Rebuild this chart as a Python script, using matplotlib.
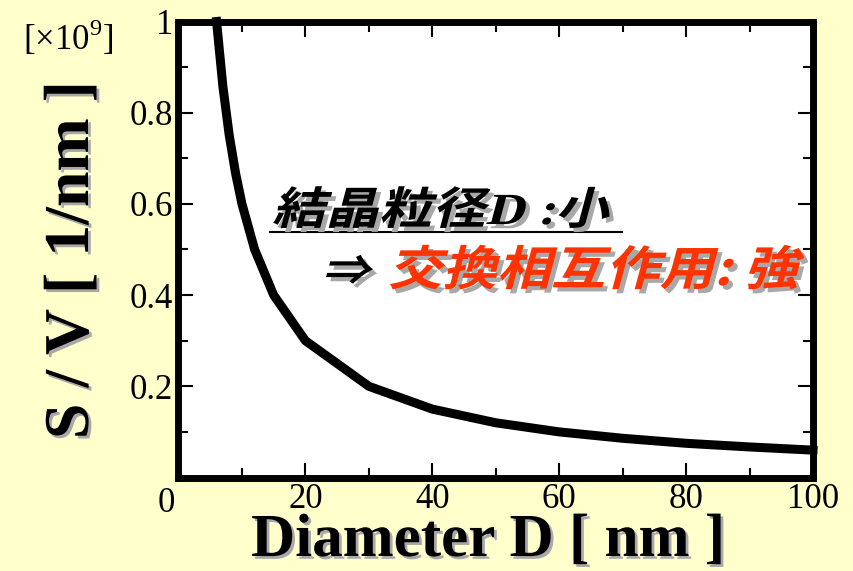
import matplotlib
matplotlib.use("Agg")
import matplotlib.pyplot as plt
import matplotlib.patheffects as pe
from matplotlib.colors import to_rgba
from matplotlib.transforms import Affine2D, ScaledTranslation
from matplotlib.ticker import MultipleLocator
from matplotlib.lines import Line2D

# data
diameter = [6, 7, 8, 9, 10, 12, 15, 20, 30, 40, 50, 60, 70, 80, 90, 100]
s_over_v = [1.0, 0.857, 0.75, 0.667, 0.6, 0.5, 0.4, 0.3, 0.2, 0.15, 0.12, 0.1,
            0.086, 0.075, 0.067, 0.06]
x_ticks = [20, 40, 60, 80, 100]
y_ticks = [0.2, 0.4, 0.6, 0.8, 1.0]
y_tick_labels = ["0.2", "0.4", "0.6", "0.8", "1"]

BG = "#FFFFCC"
RED = "#FF3300"
SERIF = ["Liberation Serif", "DejaVu Serif"]
CJK = ["Noto Sans CJK JP", "DejaVu Sans"]

plt.rcParams["mathtext.fontset"] = "custom"
plt.rcParams["mathtext.rm"] = "Liberation Serif"


class TextFx(pe.AbstractPathEffect):
    """shear + horizontal stretch about the text origin, optional shadow colour"""
    def __init__(self, offset=(0, 0), color=None, skew=0, stretch=1.0):
        super().__init__(offset)
        self.color = to_rgba(color) if color is not None else None
        self.skew = skew
        self.stretch = stretch

    def draw_path(self, renderer, gc, tpath, affine, rgbFace):
        x0, y0 = affine.transform((0, 0))
        t = (Affine2D().translate(-x0, -y0).scale(self.stretch, 1)
             .skew_deg(self.skew, 0).translate(x0, y0))
        gc0 = renderer.new_gc()
        gc0.copy_properties(gc)
        face = self.color if self.color is not None else rgbFace
        renderer.draw_path(gc0, tpath, affine + t + self._offset_transform(renderer), face)
        gc0.restore()


def fx(skew=0, stretch=1.0, off=(2, -2)):
    return [TextFx(offset=off, color="#A8A8A8", skew=skew, stretch=stretch),
            TextFx(skew=skew, stretch=stretch)]


W, H = 854, 571
fig = plt.figure(figsize=(8.54, 5.71), dpi=100, facecolor=BG)
L, R, T, B = 178.5, 813, 21.5, 477.5
ax = fig.add_axes([L / W, 1 - B / H, (R - L) / W, (B - T) / H])
ax.set_facecolor("white")

ax.plot(diameter, s_over_v, color="black", lw=6.5, clip_on=False, zorder=3)

ax.set_xlim(0, 100)
ax.set_ylim(0, 1)
ax.set_xticks(x_ticks)
ax.set_yticks(y_ticks)
ax.set_yticklabels(y_tick_labels)
ax.xaxis.set_minor_locator(MultipleLocator(10))
ax.yaxis.set_minor_locator(MultipleLocator(0.1))
ax.tick_params(which="both", direction="in", top=True, right=True,
               labelsize=25, colors="black")
ax.tick_params(which="major", length=11, width=1.5)
ax.tick_params(which="minor", length=7, width=1.5)
ax.tick_params(axis="x", pad=4)
ax.tick_params(axis="y", pad=4)
for lab in ax.get_xticklabels() + ax.get_yticklabels():
    lab.set_family(SERIF)
for sp in ax.spines.values():
    sp.set_linewidth(5)
    sp.set_zorder(4)

# the origin "0" sits a little left of the corner
ax.text(0, 0, "0", family=SERIF, fontsize=25, ha="center", va="top",
        transform=ax.transData + ScaledTranslation(-12 / 100, -9 / 100, fig.dpi_scale_trans))

fig.text(488 / W, 1 - 556 / H, "Diameter D [ nm ]", family=SERIF, fontsize=44,
         fontweight="bold", ha="center", va="baseline", path_effects=fx())
fig.text(73 / W, 1 - 260 / H, "S / V [ 1/nm ]", family=SERIF, fontsize=46,
         fontweight="bold", rotation=90, ha="center", va="center", path_effects=fx())

fig.text(23 / W, 1 - 50 / H, r"[$\times$10$^9$]", family=SERIF, fontsize=25,
         ha="left", va="baseline")

# annotation text
fig.text(272 / W, 1 - 224 / H, "結晶粒径D :小", family=SERIF[:1] + CJK,
         fontsize=32, fontweight="bold", ha="left", va="baseline",
         path_effects=fx(skew=15, stretch=1.2, off=(3, -3)))
fig.add_artist(Line2D([270 / W, 622 / W], [1 - 232 / H, 1 - 232 / H],
                      color="black", lw=1.5))
fig.text(322 / W, 1 - 285 / H, "⇒", family=CJK, fontsize=30, fontweight="bold",
         ha="left", va="baseline", path_effects=fx(skew=15, stretch=1.15, off=(3, -3)))
fig.text(388 / W, 1 - 285 / H, "交換相互作用: 強", family=CJK, color=RED,
         fontsize=34, fontweight="bold", ha="left", va="baseline",
         path_effects=fx(skew=15, stretch=1.15, off=(3, -3)))

fig.savefig("out.png", dpi=100, facecolor=BG)
